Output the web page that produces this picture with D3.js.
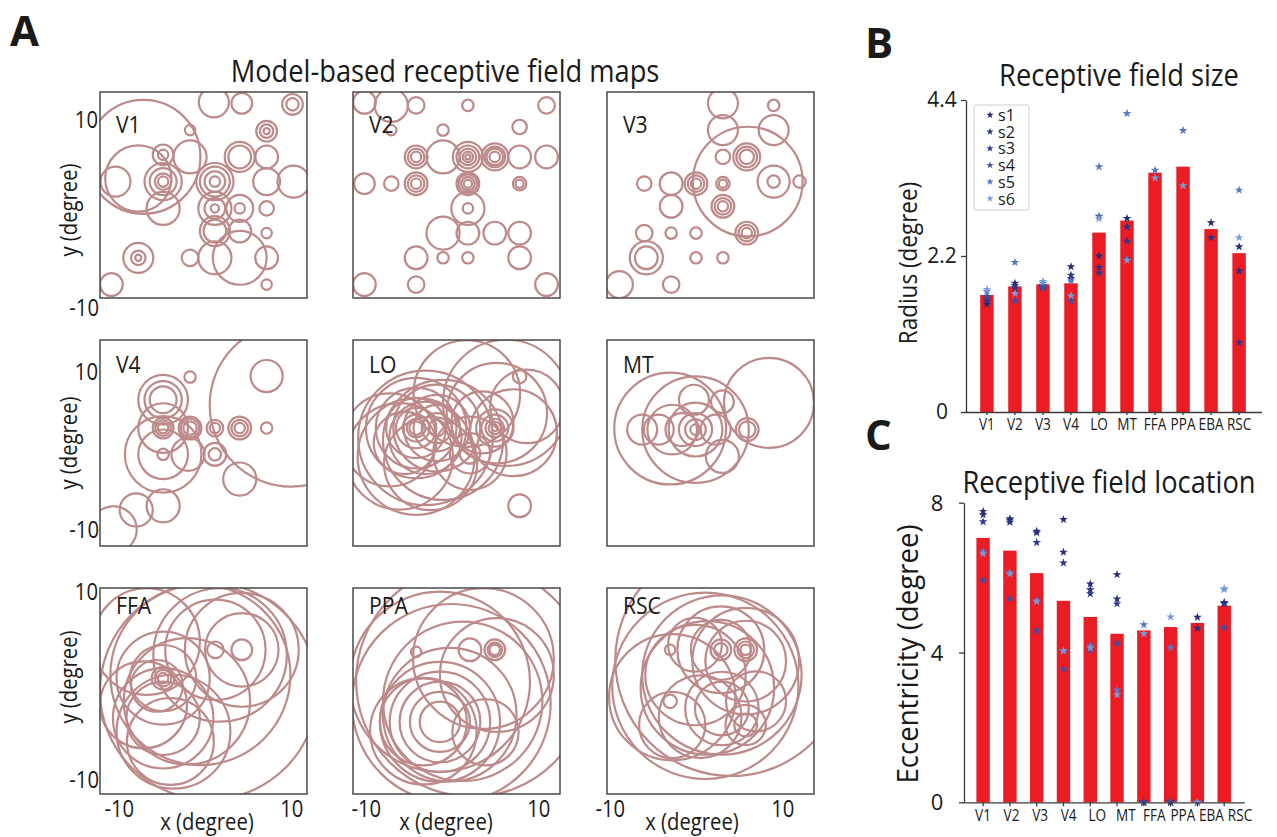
<!DOCTYPE html>
<html>
<head>
<meta charset="utf-8">
<script src="https://cdn.jsdelivr.net/npm/d3@7"></script>
<style>
  body { margin: 0; background: #fff; }
  svg { display: block; font-family: "Open Sans", "Noto Sans", sans-serif; }
</style>
</head>
<body>
<svg id="fig" width="1277" height="837"></svg>
<script>
// ---- panel A: receptive field maps, [x, y, [radii...]] in degrees ----
const mapV1 = [
  [-5.8, 3.7, [5.5]], [-6.3, 1.6, [3.2]], [-8.5, 1.3, [1.45]],
  [-3.9, 1.3, [1.8, 1.3, 0.8, 0.5]], [-3.9, 3.9, [1.0, 0.5]], [-3.9, -1.3, [1.6]],
  [-1.3, 3.7, [1.6]], [-1.3, 6.3, [0.5]], [1.0, 9.0, [1.45]], [3.7, 8.9, [1.0]],
  [8.6, 8.8, [1.0, 0.6]], [6.1, 6.2, [1.0, 0.65, 0.3]], [3.5, 3.7, [1.45, 1.1]],
  [6.1, 3.7, [1.1]], [1.1, 1.3, [1.8, 1.45, 1.0, 0.5]], [6.1, 1.3, [1.3]], [8.7, 1.3, [1.55]],
  [1.1, -1.3, [1.6, 1.0, 0.4]], [3.5, -1.3, [1.3, 0.5]], [6.1, -1.3, [0.7]],
  [1.1, -3.5, [1.45, 1.1]], [3.5, -3.5, [1.1]], [6.1, -3.7, [0.5]],
  [-6.3, -6.1, [1.45, 0.7, 0.3]], [-1.3, -6.1, [0.8]], [1.1, -6.1, [1.6]], [3.5, -6.1, [2.6]],
  [6.1, -6.1, [1.1]], [6.1, -8.7, [0.5]], [-8.9, -8.7, [1.1]]
];
const mapV2 = [
  [-8.9, 9.0, [1.1]], [-6.3, 8.7, [1.6]], [-3.9, 8.7, [0.8]], [-6.3, 6.3, [0.5]],
  [1.1, 8.7, [0.55]], [8.7, 8.7, [0.8]], [-1.3, 6.3, [0.55]], [6.1, 6.6, [0.7]],
  [-3.9, 3.7, [1.1, 0.8, 0.5]], [-1.3, 3.7, [1.6]], [1.1, 3.7, [1.45, 1.1, 0.8, 0.5, 0.25]],
  [3.7, 3.7, [1.3, 1.0, 0.8, 0.5]], [6.1, 3.7, [1.1]], [8.7, 3.7, [1.1]],
  [-8.9, 1.1, [1.0]], [-6.3, 1.1, [0.7]], [-3.9, 1.1, [1.1, 0.8, 0.5]],
  [1.1, 1.1, [1.1, 0.9, 0.65, 0.4]], [6.1, 1.1, [0.65, 0.4]],
  [1.1, -1.3, [1.6, 0.5]], [-1.3, -3.7, [1.6]], [1.1, -3.7, [1.1]], [3.7, -3.7, [1.1]],
  [6.1, -3.7, [1.1]], [-3.9, -6.1, [1.1]], [-1.3, -6.1, [0.55]], [1.1, -6.1, [0.55]],
  [6.1, -6.1, [1.1]], [-8.9, -8.7, [1.1]], [-3.9, -8.7, [0.8]], [8.7, -8.7, [1.1]]
];
const mapV3 = [
  [1.2, 8.9, [1.45]], [1.2, 6.3, [1.45]], [6.1, 8.7, [0.55]], [6.1, 6.3, [1.45]],
  [3.6, 1.3, [5.3]], [1.2, 3.7, [0.7]], [3.5, 3.7, [1.3, 1.0, 0.7]],
  [6.1, 1.3, [1.55, 0.6]], [8.6, 1.3, [0.6]],
  [-6.4, 1.1, [0.7]], [-3.8, 1.1, [1.1]], [-1.4, 1.1, [1.1, 0.8, 0.5]], [1.2, 1.1, [0.65, 0.4]],
  [1.2, -1.1, [1.1, 0.8, 0.5]], [-3.8, -1.1, [1.1]],
  [-6.4, -3.7, [0.8]], [-3.8, -3.7, [0.55]], [-1.4, -3.7, [0.55]], [3.5, -3.7, [1.1, 0.8, 0.5]],
  [-6.2, -6.1, [1.6, 1.1]], [-1.4, -6.1, [0.55]], [1.2, -6.1, [0.55]],
  [-8.8, -8.7, [1.3]], [-3.8, -8.7, [0.8]]
];
const mapV4 = [
  [8.5, 3.7, [7.9]], [6.1, 6.5, [1.55]], [-1.3, 6.4, [0.55]],
  [-3.9, 4.2, [2.4, 1.8, 1.3]], [-3.9, 1.45, [2.4, 1.0, 0.75, 0.5]],
  [-3.9, -1.1, [3.7, 2.4, 0.55]], [-1.3, 1.45, [1.1, 0.9, 0.65]], [1.1, 1.45, [0.8, 0.5]],
  [3.5, 1.45, [1.1, 0.8, 0.5]], [6.1, 1.45, [0.55]], [-1.5, -1.1, [1.6]], [1.1, -1.1, [1.1, 0.6]],
  [3.5, -3.5, [1.6]], [-3.9, -6.1, [1.6]], [-6.5, -6.5, [1.6]], [-8.7, -8.4, [2.25]]
];
const mapLO = [
  [-3.9, 1.45, [0.65, 0.9, 1.3, 1.95, 2.9, 3.9, 4.85]],
  [-1.9, 1.45, [0.8, 1.45, 2.25, 3.2, 4.2]],
  [-1.3, 0.3, [5.8]], [-5.5, -1.3, [5.15]], [1.3, -1.0, [1.0, 1.95, 3.55]],
  [3.7, 1.45, [0.3, 0.6, 0.9, 1.3, 1.8]], [3.9, 2.9, [4.85]], [4.8, 3.9, [6.1]],
  [6.8, 3.55, [3.55]], [1.0, 4.8, [5.15]], [6.1, 6.45, [0.65]], [6.1, -6.1, [1.1]],
  [-6.45, 0.3, [4.5]], [-3.9, -1.3, [5.65]], [-3.0, 0.5, [3.5, 6.5]], [-5.0, 0.0, [3.0]],
  [2.5, 2.0, [3.0]], [-2.5, -2.0, [4.5]], [5.5, 1.0, [4.2]]
];
const mapMT = [
  [5.65, 3.9, [4.35]], [-3.9, 1.4, [5.4]], [-1.45, 1.3, [5.15, 2.6, 1.6, 1.0, 0.5]],
  [-3.7, 1.3, [2.4]], [-6.6, 1.3, [1.45]], [-5.0, 1.3, [1.45]], [-2.75, 1.3, [1.6]],
  [0.5, 1.3, [1.45]], [3.55, 1.3, [1.1, 0.8]], [-1.6, 4.2, [1.45]], [1.15, 4.0, [1.1]],
  [1.15, -1.3, [1.6]]
];
const mapFFA = [
  [-3.9, 1.25, [0.5, 0.8, 1.1, 3.2, 4.5]], [3.7, 4.0, [1.0, 3.55, 5.5]], [1.15, 4.0, [0.8, 4.85]],
  [1.6, 3.5, [6.45]], [-0.3, 1.55, [8.7]], [-3.9, -2.65, [4.85, 3.55]], [-2.9, -3.95, [5.5]],
  [-5.8, -1.35, [4.2]], [-1.6, -1.0, [6.1]], [-5.5, 4.8, [5.15]], [-3.2, -4.9, [4.2]],
  [0.5, 0.0, [10.5]], [-4.5, 0.5, [2.5]]
];
const mapPPA = [
  [3.7, 4.0, [1.0, 0.7, 0.5]], [1.3, 4.0, [1.1]], [-3.9, 3.8, [0.5]],
  [-1.6, -3.0, [1.95, 2.9, 3.9, 4.85, 5.8]], [-3.2, -3.0, [4.2]], [-0.65, -2.3, [6.45]],
  [3.9, 1.55, [5.5]], [2.6, 3.15, [6.8]], [-1.6, 0.9, [8.7]], [-3.2, -3.9, [5.15]],
  [0.6, -1.0, [7.7]], [2.8, -4.0, [3.2]], [-0.5, -1.2, [9.6]], [1.5, 1.0, [11.2]]
];
const mapRSC = [
  [-3.9, 4.0, [0.5]], [1.0, 4.0, [0.65, 1.0, 2.9, 4.2]], [3.4, 4.0, [0.5, 0.8, 1.1]],
  [3.4, 2.9, [3.9, 5.15]], [-3.9, -1.0, [0.65]], [-1.45, 1.55, [4.85]],
  [-3.7, -3.3, [3.2]], [1.1, -1.7, [3.55, 2.6]], [3.4, -3.3, [1.95, 1.1]], [4.4, -1.0, [2.9]],
  [1.1, 1.55, [7.7]], [-3.7, -0.6, [6.1]], [-0.3, 0.3, [6.45]], [-1.5, 4.5, [2.6]],
  [-0.5, 0.5, [9.0]], [2.0, 3.0, [11.2]], [-1.0, -2.5, [4.0]]
];
const mapNames = ["V1", "V2", "V3", "V4", "LO", "MT", "FFA", "PPA", "RSC"];
const maps = [mapV1, mapV2, mapV3, mapV4, mapLO, mapMT, mapFFA, mapPPA, mapRSC];

// ---- panels B and C ----
const regions = ["V1", "V2", "V3", "V4", "LO", "MT", "FFA", "PPA", "EBA", "RSC"];
const subjects = ["s1", "s2", "s3", "s4", "s5", "s6"];
const sizeMean = [1.65, 1.77, 1.80, 1.815, 2.53, 2.70, 3.375, 3.46, 2.58, 2.24];
const sizeS1 = [1.52, 1.815, 1.78, 2.05, 2.20, 2.73, null, null, 2.67, 2.33];
const sizeS2 = [1.57, 1.78, 1.76, 1.885, 2.04, 2.61, null, null, 2.46, 1.99];
const sizeS3 = [1.60, 1.745, 1.77, 1.93, 1.96, 2.41, null, null, null, 0.98];
const sizeS4 = [1.63, 1.57, 1.745, 1.57, 2.76, 2.16, null, null, null, null];
const sizeS5 = [1.70, 2.11, 1.815, 1.85, 3.46, 4.21, 3.41, 3.97, null, 3.13];
const sizeS6 = [1.73, 1.67, 1.84, 1.64, 2.73, 2.14, 3.30, 3.19, null, 2.46];
const locMean = [7.06, 6.72, 6.12, 5.38, 4.95, 4.50, 4.59, 4.68, 4.79, 5.25];
const locS1 = [7.77, 7.57, 7.24, 7.55, 5.83, 6.08, 0, 0, 4.94, 5.34];
const locS2 = [7.68, 7.53, 7.20, 6.68, 5.68, 5.43, 0, 0, 4.65, 5.30];
const locS3 = [7.49, 7.48, 6.94, 6.39, 5.57, 5.30, 0, 0, 0, 5.32];
const locS4 = [5.93, 5.44, 4.58, 3.56, 4.07, 4.25, 0, 0, 0, 4.67];
const locS5 = [6.70, 6.14, 5.39, 4.03, 4.18, 3.00, 4.74, 4.13, 0, 5.70];
const locS6 = [6.64, 6.10, 5.36, 4.05, 4.12, 2.87, 4.50, 4.95, 0, 5.68];
const sizeTicks = [0, 2.2, 4.4];
const locTicks = [0, 4, 8];
const axisTicks = [-10, 10];

const subjectColors = ["#272b73", "#2a3180", "#2f378b", "#3b50a2", "#5577c7", "#7a9ad8"];
const ringColor = "#bd8a8a";
const barColor = "#ec1c24";
const axisColor = "#3a3a3a";
const textColor = "#1a1a1a";
const squeeze = 0.88;

const svg = d3.select("#fig");

function addText(parent, x, y, str, size, anchor = "start", opt = {}) {
  const rot = opt.rotate ? ` rotate(${opt.rotate})` : "";
  const t = parent.append("text")
    .attr("transform", `translate(${x},${y})${rot} scale(${opt.sx ?? squeeze},1)`)
    .attr("text-anchor", anchor)
    .attr("font-size", size)
    .attr("fill", textColor)
    .text(str);
  if (opt.bold) t.attr("font-weight", 700);
  return t;
}

// ---------------- panel A ----------------
const boxLeft = [100, 353, 607];
const boxTop = [92, 340, 588];
const boxW = 207, boxH = 206;
const nameBase = [41, 33, 26];            // label baseline below box top, per row
const yTickBase = [[128, 316], [380, 538], [600, 788]];
const xTickShift = [2, -4, -14];

addText(svg, 10, 46, "A", 42, "start", { bold: true, sx: 1 });
addText(svg, 445, 82, "Model-based receptive field maps", 31, "middle");

const defs = svg.append("defs");

maps.forEach((circles, i) => {
  const col = i % 3, row = Math.floor(i / 3);
  const x0 = boxLeft[col], y0 = boxTop[row];
  const x = d3.scaleLinear().domain([-10, 10]).range([x0, x0 + boxW]);
  const y = d3.scaleLinear().domain([-10, 10]).range([y0 + boxH, y0]);
  const k = boxW / 20;

  defs.append("clipPath").attr("id", "clip" + i)
    .append("rect").attr("x", x0).attr("y", y0).attr("width", boxW).attr("height", boxH);

  const rings = circles.flatMap(([cx, cy, rs]) => rs.map(r => ({ cx, cy, r })));
  const g = svg.append("g");
  g.append("g").attr("clip-path", `url(#clip${i})`)
    .selectAll("circle").data(rings).join("circle")
    .attr("cx", d => x(d.cx))
    .attr("cy", d => y(d.cy))
    .attr("r", d => d.r * k)
    .attr("fill", "none")
    .attr("stroke", ringColor)
    .attr("stroke-width", 2.2);

  g.append("rect")
    .attr("x", x0).attr("y", y0).attr("width", boxW).attr("height", boxH)
    .attr("fill", "none").attr("stroke", "#4a4a4a").attr("stroke-width", 1.5);

  addText(g, x0 + 16, y0 + nameBase[row], mapNames[i], 24);

  if (col === 0) {
    addText(g, 98, yTickBase[row][0], "10", 23, "end");
    addText(g, 99, yTickBase[row][1], "-10", 23, "end");
    addText(g, 77, [210, 443, 677][row], "y (degree)", 23, "middle", { rotate: -90 });
  }
  if (row === 2) {
    const xl = d3.scaleLinear().domain([-12, 12]).range([x0, x0 + boxW]);
    axisTicks.forEach(v => addText(g, xl(v) + xTickShift[col], 817, String(v), 23, "middle"));
    addText(g, [207, 446, 692][col], 830, "x (degree)", 23, "middle");
  }
});

// ---------------- star helper ----------------
const star = d3.symbol().type(d3.symbolStar).size(24);
const starSmall = d3.symbol().type(d3.symbolStar).size(17);

function drawStars(g, xs, ys, series) {
  series.forEach((vals, s) => {
    const pts = vals.map((v, i) => ({ v, r: regions[i] })).filter(d => d.v != null);
    g.append("g").selectAll("path").data(pts).join("path")
      .attr("d", star)
      .attr("transform", d => `translate(${xs(d.r) + xs.bandwidth() / 2},${ys(d.v)})`)
      .attr("fill", subjectColors[s]);
  });
}

function styleAxis(sel) {
  sel.selectAll("path, line").attr("stroke", axisColor).attr("stroke-width", 1.3);
  sel.selectAll("text").remove();
}

// ---------------- panel B ----------------
const gB = svg.append("g");
addText(gB, 865, 58, "B", 42, "start", { bold: true, sx: 1 });
addText(gB, 1119, 86, "Receptive field size", 31, "middle");

const xB = d3.scaleBand().domain(regions).range([964.5, 1261.5]).paddingInner(0.52).paddingOuter(0.56);
const yB = d3.scaleLinear().domain([0, 4.4]).range([412, 100]);

gB.append("g").selectAll("rect").data(regions).join("rect")
  .attr("x", d => xB(d))
  .attr("width", xB.bandwidth())
  .attr("y", (d, i) => yB(sizeMean[i]))
  .attr("height", (d, i) => yB(0) - yB(sizeMean[i]))
  .attr("fill", barColor);

drawStars(gB, xB, yB, [sizeS1, sizeS2, sizeS3, sizeS4, sizeS5, sizeS6]);

gB.append("g").attr("transform", "translate(966,0)")
  .call(d3.axisLeft(yB).tickValues(sizeTicks).tickSize(5).tickSizeOuter(0))
  .call(styleAxis);
gB.append("g").attr("transform", "translate(0,412)")
  .call(d3.axisBottom(xB).tickSize(3).tickSizeOuter(0))
  .call(styleAxis);
sizeTicks.forEach(v => addText(gB, 942, yB(v) + 7, v === 0 ? "0" : v.toFixed(1), 21, "middle", { sx: 1 }));
regions.forEach(r => addText(gB, xB(r) + xB.bandwidth() / 2, 430, r, 17, "middle", { sx: 0.8 }));
addText(gB, 917, 263, "Radius (degree)", 25, "middle", { rotate: -90, sx: 0.9 });

// legend
const legend = gB.append("g");
legend.append("rect").attr("x", 974).attr("y", 105).attr("width", 55).attr("height", 105)
  .attr("fill", "#fff").attr("stroke", "#cfcfcf").attr("stroke-width", 1).attr("rx", 2);
subjects.forEach((s, i) => {
  const ly = 115 + i * 16.7;
  legend.append("path").attr("d", starSmall).attr("transform", `translate(990,${ly})`)
    .attr("fill", subjectColors[i]);
  addText(legend, 998, ly + 6, s, 17, "start", { sx: 0.95 });
});

// ---------------- panel C ----------------
const gC = svg.append("g");
addText(gC, 865, 450, "C", 42, "start", { bold: true, sx: 1 });
addText(gC, 1109, 493, "Receptive field location", 31, "middle");

const xC = d3.scaleBand().domain(regions).range([963, 1244.3]).paddingInner(0.5).paddingOuter(0.5);
const xCLabel = d3.scalePoint().domain(regions).range([983, 1240]);
const yC = d3.scaleLinear().domain([0, 8]).range([802.3, 502.7]);

gC.append("g").selectAll("rect").data(regions).join("rect")
  .attr("x", d => xC(d))
  .attr("width", xC.bandwidth())
  .attr("y", (d, i) => yC(locMean[i]))
  .attr("height", (d, i) => yC(0) - yC(locMean[i]))
  .attr("fill", barColor);

drawStars(gC, xC, yC, [locS1, locS2, locS3, locS4, locS5, locS6]);

gC.append("g").attr("transform", "translate(964,0)")
  .call(d3.axisLeft(yC).tickValues(locTicks).tickSize(5).tickSizeOuter(0))
  .call(styleAxis);
gC.append("g").attr("transform", "translate(0,802.3)")
  .call(d3.axisBottom(xC).tickSize(4).tickSizeOuter(0))
  .call(styleAxis);
locTicks.forEach(v => addText(gC, 937, yC(v) + 8, String(v), 22, "middle", { sx: 1 }));
regions.forEach(r => addText(gC, xCLabel(r), 821, r, 17, "middle", { sx: 0.8 }));
addText(gC, 918, 654, "Eccentricity (degree)", 30, "middle", { rotate: -90, sx: 0.92 });
</script>
</body>
</html>
